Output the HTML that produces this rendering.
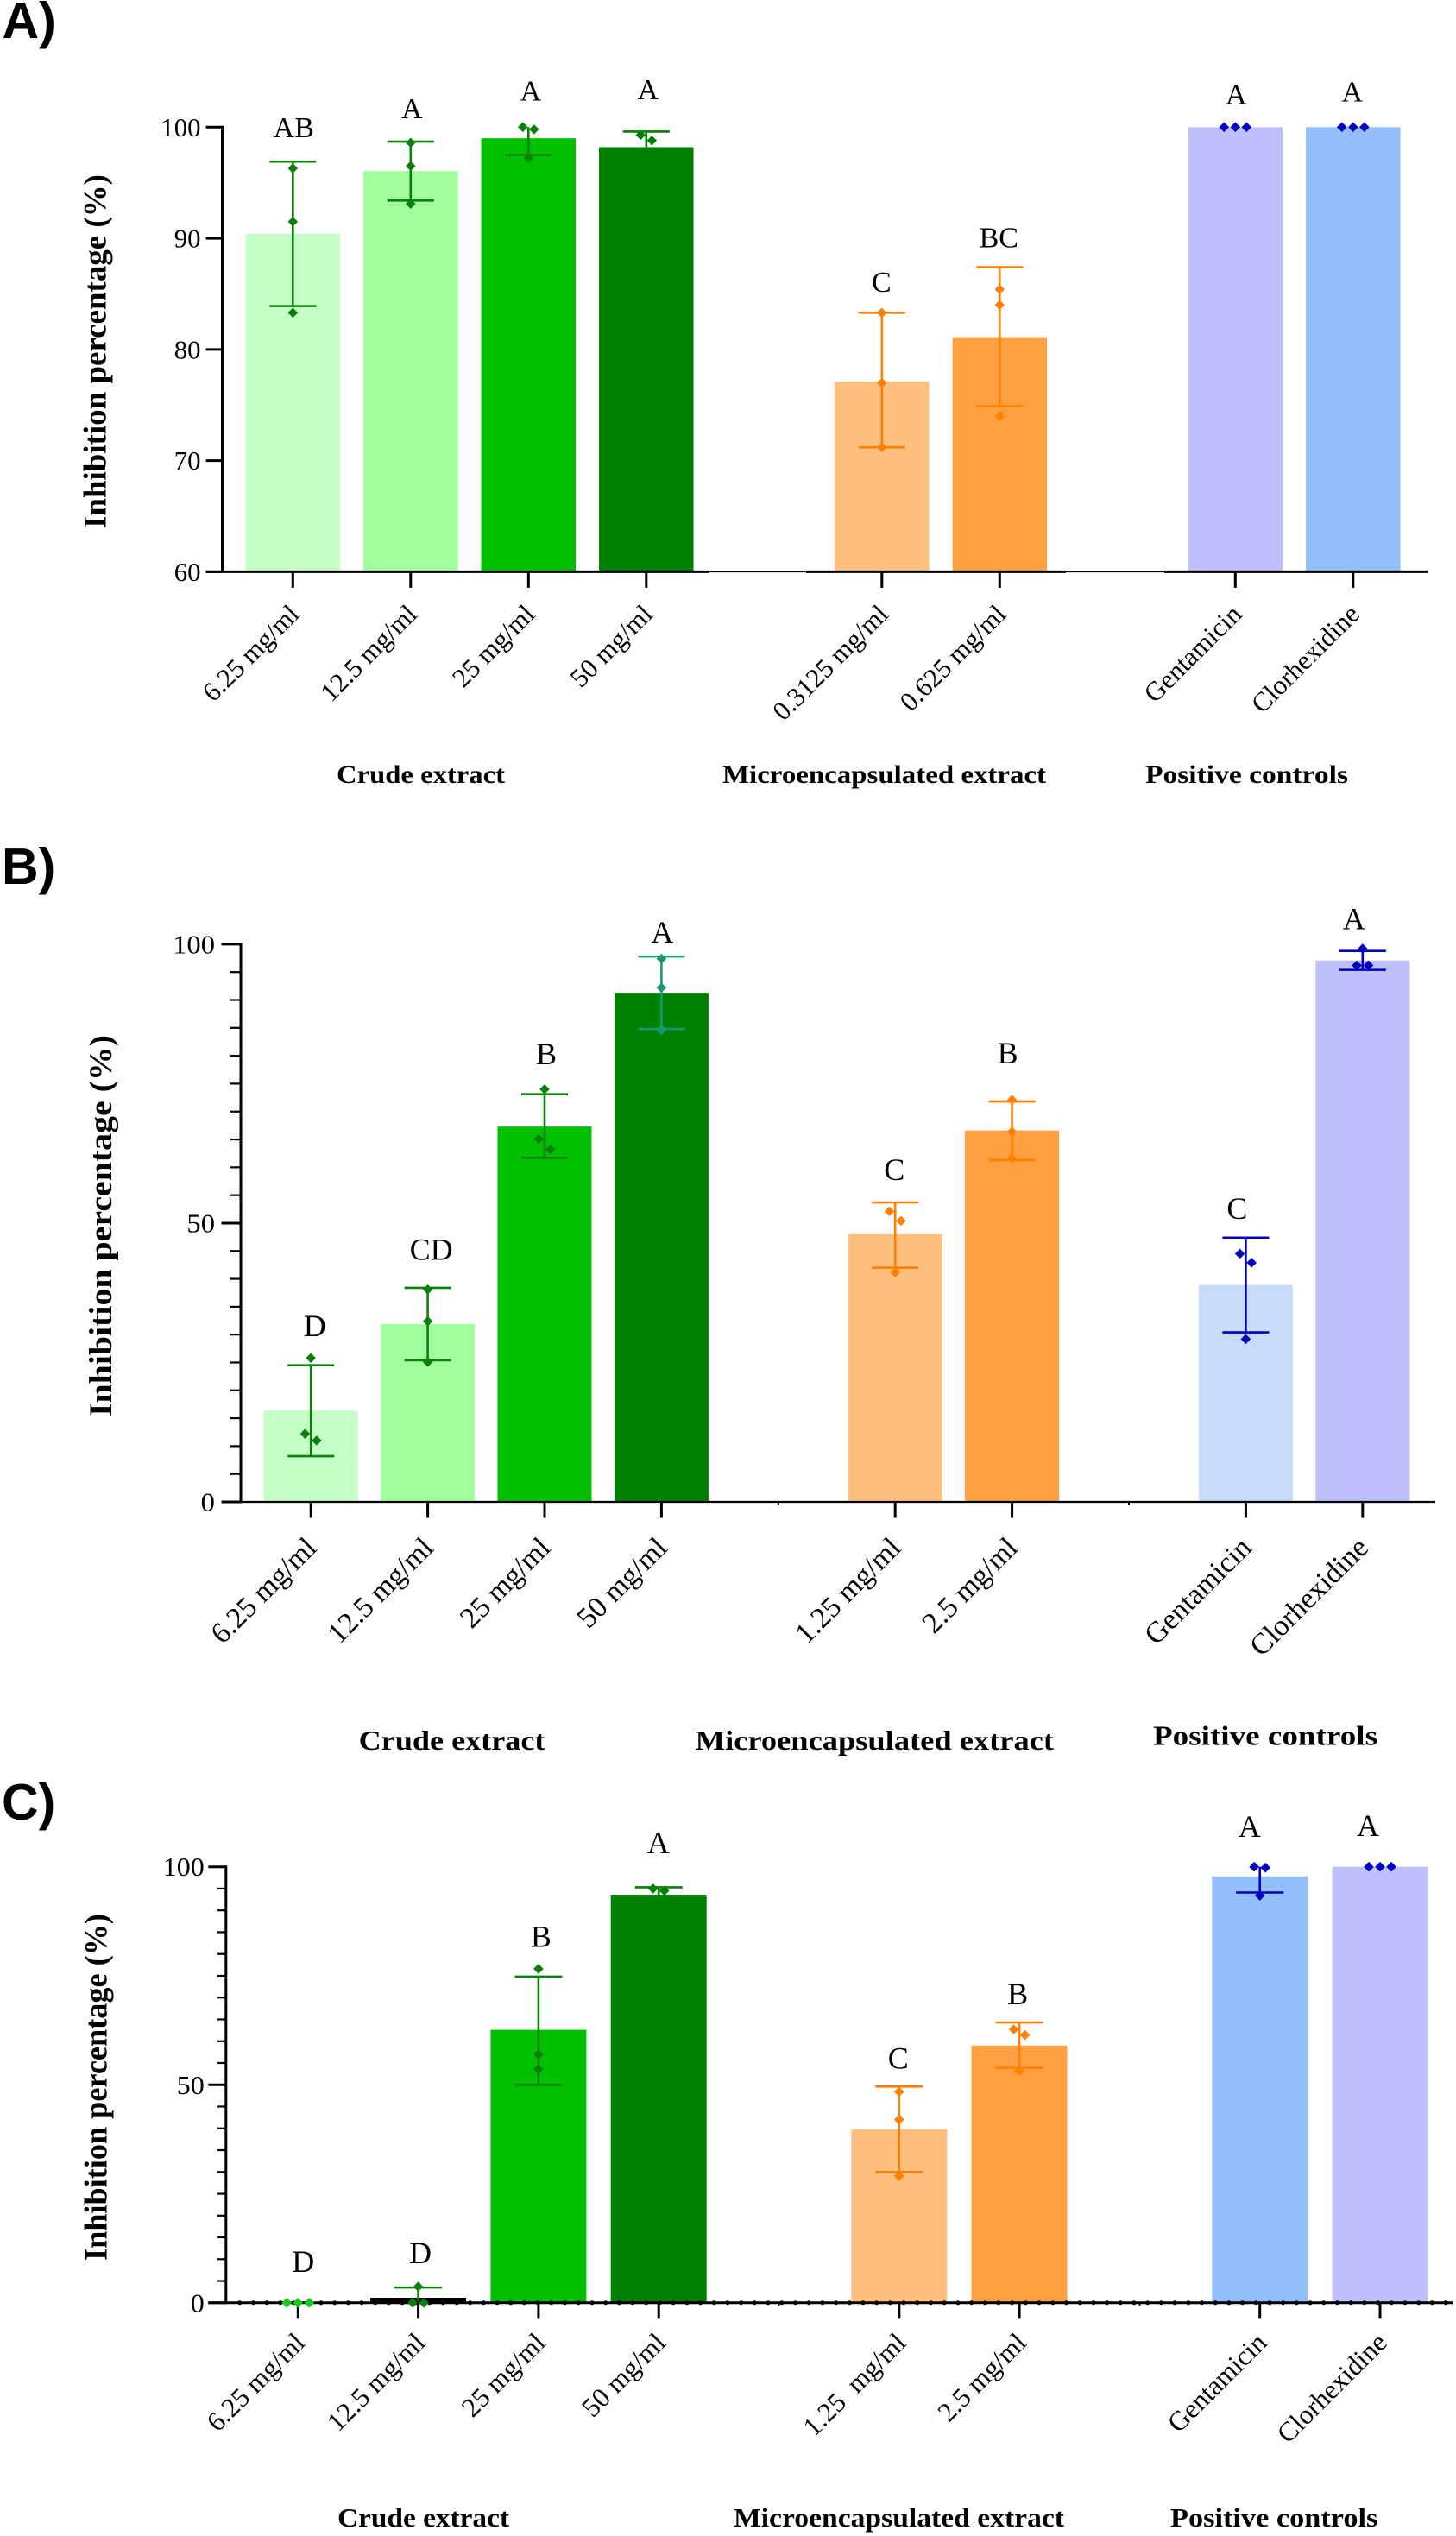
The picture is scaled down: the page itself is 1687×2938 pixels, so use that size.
<!DOCTYPE html>
<html lang="en">
<head>
<meta charset="utf-8">
<title>Inhibition percentage bar charts</title>
<style>
html,body{margin:0;padding:0;background:#fff;}
svg{display:block;}
text{font-family:"Liberation Serif",serif;fill:#000;}
.panel-letter{font-family:"Liberation Sans",sans-serif;font-weight:bold;}
</style>
</head>
<body>
<svg id="figure" xmlns="http://www.w3.org/2000/svg" width="1687" height="2938" viewBox="0 0 1687 2938">
<rect x="0" y="0" width="1687" height="2938" fill="#ffffff"/>
<text class="panel-letter" x="2.5" y="44" font-size="59">A)</text>
<text class="panel-letter" x="2" y="1024" font-size="59">B)</text>
<text class="panel-letter" x="2" y="2108" font-size="59">C)</text>
<g id="panel-a"></g>
<g id="panel-b"></g>
<g id="panel-c"></g>
</svg>
<script>
/* ---------- Panel A data ---------- */
const panelACategories = ['6.25 mg/ml','12.5 mg/ml','25 mg/ml','50 mg/ml','','0.3125 mg/ml','0.625 mg/ml','','Gentamicin','Clorhexidine'];
const panelAMeans = [90.4,96.05,99.0,98.2,null,77.1,81.1,null,100,100];
const panelAErrUpper = [96.9,98.7,100,99.6,null,83.3,87.4,null,100,100];
const panelAErrLower = [83.9,93.4,97.5,96.8,null,71.2,74.9,null,100,100];
const panelAPoints = [[96.3,91.5,83.3],[98.6,96.5,93.1],[100,99.8,97.2],[99.3,98.8,96.5],null,[83.3,77,71.2],[85.4,84,74],null,[100,100,100],[100,100,100]];
const panelALetters = ['AB','A','A','A','','C','BC','','A','A'];
const panelALetterLevels = [99.1,100.8,102.4,102.5,null,85.2,89.2,null,102.1,102.3];
const panelATicks = [60,70,80,90,100];
const panelAMinorTicks = [];

/* ---------- Panel B data ---------- */
const panelBCategories = ['6.25 mg/ml','12.5 mg/ml','25 mg/ml','50 mg/ml','','1.25 mg/ml','2.5 mg/ml','','Gentamicin','Clorhexidine'];
const panelBMeans = [16.4,31.9,67.3,91.3,null,48,66.6,null,38.9,97.1];
const panelBErrUpper = [24.5,38.4,73.1,97.8,null,53.7,71.8,null,47.4,98.8];
const panelBErrLower = [8.2,25.4,61.7,84.8,null,42,61.3,null,30.4,95.4];
const panelBPoints = [[25.8,12.2,11],[38.1,32.4,25.1],[74,65.1,63.2],[97.4,92.2,84.6],null,[52.1,50.4,41.2],[72.1,66.4,61.6],null,[44.5,42.9,29.2],[99.2,96.2,96.2]];
const panelBLetters = ['D','CD','B','A','','C','B','','C','A'];
const panelBLetterLevels = [29.7,43.4,78.5,100.3,null,57.7,78.6,null,50.8,102.7];
const panelBTicks = [0,50,100];
const panelBMinorTicks = [5,10,15,20,25,30,35,40,45,55,60,65,70,75,80,85,90,95];

/* ---------- Panel C data ---------- */
const panelCCategories = ['6.25 mg/ml','12.5 mg/ml','25 mg/ml','50 mg/ml','','1.25\u00a0\u00a0mg/ml','2.5 mg/ml','','Gentamicin','Clorhexidine'];
const panelCMeans = [0,1.15,62.6,93.6,null,39.8,59,null,97.8,100];
const panelCErrUpper = [0,3.5,74.8,95.3,null,49.6,64.3,null,100,100];
const panelCErrLower = [0,0,50,92,null,30,53.9,null,94.1,100];
const panelCPoints = [[0,0,0],[3.7,0,0],[76.6,57,53.6],[95,94.5,90],null,[48.4,42,29.1],[62.7,61.4,53.2],null,[100,99.8,93.4],[100,100,100]];
const panelCLetters = ['D','D','B','A','','C','B','','A','A'];
const panelCLetterLevels = [7.1,9.1,81.6,103.1,null,53.7,68.5,null,106.9,107.1];
const panelCTicks = [0,50,100];
const panelCMinorTicks = [5,10,15,20,25,30,35,40,45,55,60,65,70,75,80,85,90,95];

/* ---------- Layout and styling (not data) ---------- */
const G1='#c6ffc6',G2='#a2ff9e',G3='#00c000',G4='#008000',O1='#ffc07f',O2='#ffa040',P='#bfbffc',BL='#92bffa',LB='#c7dcf8';
const EG='#0a800a',EO='#ff8000',EB='#0000c0',ET='#1a9874',EL='#19c819';
const NS='http://www.w3.org/2000/svg';

function mk(parent,tag,attrs){
  const el=document.createElementNS(NS,tag);
  for(const k in attrs){el.setAttribute(k,attrs[k]);}
  parent.appendChild(el);
  return el;
}
function label(parent,str,attrs){
  const el=mk(parent,'text',attrs);
  el.textContent=str;
  return el;
}
/* Groups near-equal values side by side, like a prism swarm plot */
function swarm(values,yScale,gap,threshold){
  const px=values.map(yScale);
  const order=px.map((p,i)=>i).sort((a,b)=>px[a]-px[b]);
  const out=new Array(values.length).fill(0);
  let i=0;
  while(i<order.length){
    let j=i;
    while(j+1<order.length && px[order[j+1]]-px[order[j]]<threshold){j++;}
    const n=j-i+1;
    for(let k=0;k<n;k++){out[order[i+k]]=(k-(n-1)/2)*gap;}
    i=j+1;
  }
  return out;
}

function drawPanel(p){
  const root=document.getElementById(p.id);
  const x=i=>p.x0+i*p.step;
  const y=v=>p.y0+(v-p.domain[0])*(p.yTop-p.y0)/(p.domain[1]-p.domain[0]);
  const base=y(p.domain[0]);

  /* bars */
  p.means.forEach((m,i)=>{
    if(m===null)return;
    const top=y(m);
    const el=mk(root,'rect',{x:x(i)-p.barW/2,y:top,width:p.barW,height:Math.max(0,base-top-1),fill:p.barColors[i]});
    
    
  });

  /* error bars (an upper cap at the axis maximum is clipped, as in the original) */
  p.upper.forEach((u,i)=>{
    if(u===null || u===p.lower[i])return;
    const c=p.errColors[i];
    const cx=x(i);
    const stem=mk(root,'line',{x1:cx,x2:cx,y1:y(u),y2:y(p.lower[i]),stroke:c,'stroke-width':2.6});
    
    
    if(u<p.domain[1]){
      const capTop=mk(root,'line',{x1:cx-p.capW,x2:cx+p.capW,y1:y(u),y2:y(u),stroke:c,'stroke-width':2.6});
      
      
    }
    const capBottom=mk(root,'line',{x1:cx-p.capW,x2:cx+p.capW,y1:y(p.lower[i]),y2:y(p.lower[i]),stroke:c,'stroke-width':2.6});
    
    
  });

  /* axes */
  const yAxis=mk(root,'line',{x1:p.axisX,x2:p.axisX,y1:p.yTop-1.5,y2:base+1.5,stroke:'#000','stroke-width':3});
  
  
  const xAxis=mk(root,'line',{x1:p.axisX-p.majorLen,x2:p.axisEnd,y1:base,y2:base,stroke:'#000','stroke-width':p.axisThin});
  
  
  p.thickSegments.forEach(s=>{
    const seg=mk(root,'line',{x1:s[0],x2:s[1],y1:base,y2:base,stroke:'#000','stroke-width':3});
    
    
  });
  if(p.dotted){
    const dots=mk(root,'line',{x1:p.axisX+16,x2:p.axisEnd,y1:base,y2:base,stroke:'#000','stroke-width':5,'stroke-linecap':'round','stroke-dasharray':'0 15.7'});
    
    
  }

  /* y ticks */
  p.ticks.forEach(t=>{
    const tick=mk(root,'line',{x1:p.axisX-p.majorLen,x2:p.axisX,y1:y(t),y2:y(t),stroke:'#000','stroke-width':3});
    
    
    const lab=label(root,String(t),{x:p.axisX-p.labelGap,y:y(t)+10.5,'text-anchor':'end','font-size':p.tickFont,textLength:String(t).length*p.digitW,lengthAdjust:'spacingAndGlyphs'});
    
    
  });
  p.minor.forEach(t=>{
    const tick=mk(root,'line',{x1:p.axisX-p.minorLen,x2:p.axisX,y1:y(t),y2:y(t),stroke:'#000','stroke-width':2.2});
    
    
  });

  /* x ticks and labels */
  p.categories.forEach((c,i)=>{
    if(c===''){
      if(p.blankTicks){
        const nub=mk(root,'line',{x1:x(i),x2:x(i),y1:base,y2:base+3,stroke:'#000','stroke-width':2});
        
        
      }
      return;
    }
    const tick=mk(root,'line',{x1:x(i),x2:x(i),y1:base,y2:base+18.5,stroke:'#000','stroke-width':3});
    
    
    const lx=x(i)+p.catDx, ly=base+p.catDy;
    const lab=label(root,c,{transform:'translate('+lx+' '+ly+') rotate(-45)','text-anchor':'end','font-size':p.catFont});
    
    
  });

  /* replicate points */
  p.points.forEach((vals,i)=>{
    if(!vals)return;
    const off=swarm(vals,y,p.dodge,15);
    vals.forEach((v,k)=>{
      const cx=x(i)+off[k], cy=y(v), r=5.8;
      const pt=mk(root,'polygon',{points:[cx,cy-r,cx+r,cy,cx,cy+r,cx-r,cy].join(' '),fill:p.pointColors[i]});
      
      
    });
  });

  /* significance letters */
  p.letters.forEach((s,i)=>{
    if(!s)return;
    const lab=label(root,s,{x:x(i)+p.letterDx[i],y:y(p.letterLevels[i]),'text-anchor':'middle','font-size':p.letterFont});
    
    
  });

  /* y title */
  const yt=label(root,'Inhibition percentage (%)',{transform:'translate('+p.titleX+' '+p.titleY+') rotate(-90)','text-anchor':'middle','font-size':37,'font-weight':'bold',textLength:p.titleLen,lengthAdjust:'spacingAndGlyphs'});
  
  

  /* group labels */
  p.groups.forEach(g=>{
    const gl=label(root,g[0],{x:g[1],y:g[3],'font-size':p.groupFont,'font-weight':'bold',textLength:g[2]-g[1],lengthAdjust:'spacingAndGlyphs'});
    
    
  });
}

drawPanel({
  id:'panel-a',categories:panelACategories,means:panelAMeans,upper:panelAErrUpper,lower:panelAErrLower,points:panelAPoints,
  letters:panelALetters,letterLevels:panelALetterLevels,ticks:panelATicks,minor:panelAMinorTicks,domain:[60,100],
  x0:339.3,step:136.5,barW:109.5,capW:27,axisX:257.5,y0:662.4,yTop:147.3,axisEnd:1654,axisThin:1.5,majorLen:19,minorLen:10,
  thickSegments:[[238.5,821],[934,1235],[1349,1654]],dotted:false,blankTicks:false,labelGap:25,tickFont:31,digitW:15.4,
  catFont:31,catDx:9,catDy:51,dodge:13,letterFont:34,
  letterDx:[1,1.5,2.5,2,0,-0.5,-1,0,1,-1],
  barColors:[G1,G2,G3,G4,null,O1,O2,null,P,BL],
  errColors:[EG,EG,EG,G4,null,EO,EO,null,EB,EB],
  pointColors:[EG,EG,EG,G4,null,EO,EO,null,EB,EB],
  titleX:122.5,titleY:407,titleLen:410,groupFont:30,
  groups:[['Crude extract',390,585,907],['Microencapsulated extract',837,1212,907],['Positive controls',1327,1562,907]]
});

drawPanel({
  id:'panel-b',categories:panelBCategories,means:panelBMeans,upper:panelBErrUpper,lower:panelBErrLower,points:panelBPoints,
  letters:panelBLetters,letterLevels:panelBLetterLevels,ticks:panelBTicks,minor:panelBMinorTicks,domain:[0,100],
  x0:360.2,step:135.4,barW:109,capW:27,axisX:279,y0:1740,yTop:1093.9,axisEnd:1663,axisThin:2.2,majorLen:22.5,minorLen:12,
  thickSegments:[],dotted:false,blankTicks:true,labelGap:30,tickFont:31,digitW:16.3,
  catFont:34,catDx:8.4,catDy:55,dodge:13.5,letterFont:36,
  letterDx:[4.6,4,2,1,0,-1,-5,0,-10,-10],
  barColors:[G1,G2,G3,G4,null,O1,O2,null,LB,P],
  errColors:[EG,EG,EG,ET,null,EO,EO,null,EB,EB],
  pointColors:[EG,EG,EG,ET,null,EO,EO,null,EB,EB],
  titleX:129,titleY:1420,titleLen:442,groupFont:32,
  groups:[['Crude extract',415.7,631.4,2027],['Microencapsulated extract',805.7,1221,2027],['Positive controls',1336,1596,2021.6]]
});

drawPanel({
  id:'panel-c',categories:panelCCategories,means:panelCMeans,upper:panelCErrUpper,lower:panelCErrLower,points:panelCPoints,
  letters:panelCLetters,letterLevels:panelCLetterLevels,ticks:panelCTicks,minor:panelCMinorTicks,domain:[0,100],
  x0:345.3,step:139.3,barW:111,capW:27.5,axisX:261.8,y0:2667.8,yTop:2162.7,axisEnd:1683,axisThin:3,majorLen:20.5,minorLen:10,
  thickSegments:[],dotted:true,blankTicks:true,labelGap:25,tickFont:31,digitW:16,
  catFont:31.5,catDx:9.7,catDy:48,dodge:13,letterFont:36,
  letterDx:[6,2.4,3,-0.5,0,-1,-2,0,-12,-14],
  barColors:[G1,'#000000',G3,G4,null,O1,O2,null,BL,P],
  errColors:[EL,EG,EG,G4,null,EO,EO,null,EB,EB],
  pointColors:[EL,EG,EG,G4,null,EO,EO,null,EB,EB],
  titleX:123.5,titleY:2418,titleLen:402,groupFont:31,
  groups:[['Crude extract',391,590,2927],['Microencapsulated extract',850,1233,2927],['Positive controls',1356,1596.4,2927]]
});
</script>
</body>
</html>
